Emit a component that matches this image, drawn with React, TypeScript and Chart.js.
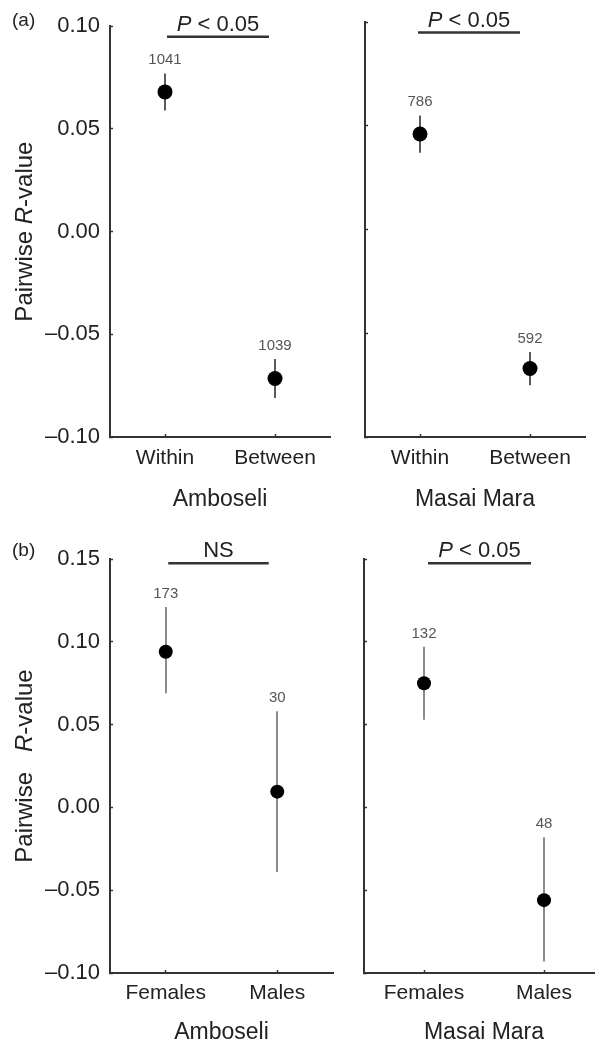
import React, { useEffect, useRef } from "react";
import { Chart, registerables } from "chart.js";

Chart.register(...registerables);

const FONT = '"Liberation Sans", Arial, Helvetica, sans-serif';

// ---------- data ----------
const groupsA = ["Within", "Between"];
const groupsB = ["Females", "Males"];
const siteNames = ["Amboseli", "Masai Mara"];

const ambWBMean = [0.068, -0.0715];
const ambWBLow = [0.059, -0.081];
const ambWBHigh = [0.077, -0.062];
const ambWBN = ["1041", "1039"];

const maraWBMean = [0.046, -0.067];
const maraWBLow = [0.037, -0.075];
const maraWBHigh = [0.055, -0.059];
const maraWBN = ["786", "592"];

const ambSexMean = [0.094, 0.0095];
const ambSexLow = [0.069, -0.039];
const ambSexHigh = [0.121, 0.058];
const ambSexN = ["173", "30"];

const maraSexMean = [0.075, -0.056];
const maraSexLow = [0.053, -0.093];
const maraSexHigh = [0.097, -0.018];
const maraSexN = ["132", "48"];

const yTicksA = [-0.1, -0.05, 0, 0.05, 0.1];
const yTicksB = [-0.1, -0.05, 0, 0.05, 0.1, 0.15];

type Part = { t: string; i?: boolean };
const sigP: Part[] = [{ t: "P", i: true }, { t: " < 0.05" }];
const sigNS: Part[] = [{ t: "NS" }];
const yTitleA: Part[] = [{ t: "Pairwise " }, { t: "R", i: true }, { t: "-value" }];
const yTitleB: Part[] = [{ t: "Pairwise   " }, { t: "R", i: true }, { t: "-value" }];

function fmt(v: number) {
  const s = Math.abs(v).toFixed(2);
  return v < -1e-9 ? "\u2013" + s : s;
}

function drawParts(ctx: CanvasRenderingContext2D, parts: Part[], size: number, x: number, y: number) {
  const fonts = parts.map((p) => `${p.i ? "italic " : ""}${size}px ${FONT}`);
  let total = 0;
  const widths = parts.map((p, k) => {
    ctx.font = fonts[k];
    const w = ctx.measureText(p.t).width;
    total += w;
    return w;
  });
  let cx = x - total / 2;
  ctx.textAlign = "left";
  parts.forEach((p, k) => {
    ctx.font = fonts[k];
    ctx.fillText(p.t, cx, y);
    cx += widths[k];
  });
}

const annotPlugin = {
  id: "annot",
  beforeDatasetsDraw(chart: any, _a: any, o: any) {
    const xs = chart.scales.x;
    const ys = chart.scales.y;
    const ctx: CanvasRenderingContext2D = chart.ctx;
    ctx.save();
    ctx.strokeStyle = o.barColor;
    ctx.lineWidth = o.barWidth;
    o.low.forEach((lo: number, i: number) => {
      const px = Math.round(xs.getPixelForValue(i));
      ctx.beginPath();
      ctx.moveTo(px, ys.getPixelForValue(lo));
      ctx.lineTo(px, ys.getPixelForValue(o.high[i]));
      ctx.stroke();
    });
    ctx.restore();
  },
  afterDatasetsDraw(chart: any, _a: any, o: any) {
    const xs = chart.scales.x;
    const ys = chart.scales.y;
    const ctx: CanvasRenderingContext2D = chart.ctx;
    const area = chart.chartArea;
    ctx.save();
    // sample sizes
    ctx.fillStyle = "#555";
    ctx.font = `15px ${FONT}`;
    ctx.textAlign = "center";
    ctx.textBaseline = "alphabetic";
    o.counts.forEach((c: string, i: number) => {
      const px = xs.getPixelForValue(i);
      ctx.fillText(c, px, ys.getPixelForValue(o.high[i]) - 9);
    });
    // significance bar
    const p0 = xs.getPixelForValue(0);
    const p1 = xs.getPixelForValue(1);
    const ly = ys.getPixelForValue(o.sigY);
    const x1 = p0 + o.sigInset[0];
    const x2 = p1 - o.sigInset[1];
    ctx.strokeStyle = "#333";
    ctx.lineWidth = 2.5;
    ctx.beginPath();
    ctx.moveTo(x1, ly);
    ctx.lineTo(x2, ly);
    ctx.stroke();
    ctx.fillStyle = "#222";
    drawParts(ctx, o.sig, 22, (x1 + x2) / 2, ly - 6);
    // panel letter
    if (o.letter) {
      ctx.font = `19px ${FONT}`;
      ctx.textAlign = "left";
      ctx.fillStyle = "#222";
      ctx.fillText(o.letter, 12, 26);
    }
    // y-axis title
    if (o.yTitle) {
      ctx.save();
      ctx.translate(32, (area.top + area.bottom) / 2);
      ctx.rotate(-Math.PI / 2);
      ctx.fillStyle = "#222";
      drawParts(ctx, o.yTitle, 24, 0, 0);
      ctx.restore();
    }
    ctx.restore();
  },
};

type PanelProps = {
  left: number;
  top: number;
  w: number;
  h: number;
  labels: string[];
  site: string;
  mean: number[];
  low: number[];
  high: number[];
  counts: string[];
  yTicks: number[];
  yMax: number;
  showY: boolean;
  yWidth: number;
  xHeight: number;
  pad: { top: number; right: number };
  tickPad: number;
  titlePad: number;
  sig: Part[];
  sigY: number;
  sigInset: number[];
  letter: string | null;
  yTitle: Part[] | null;
  barColor: string;
  barWidth: number;
  radius: number;
};

function Panel(p: PanelProps) {
  const ref = useRef<HTMLCanvasElement>(null);
  useEffect(() => {
    if (!ref.current) return;
    const chart = new Chart(ref.current, {
      type: "line",
      data: {
        labels: p.labels,
        datasets: [
          {
            data: p.mean,
            showLine: false,
            pointRadius: p.radius,
            pointHoverRadius: p.radius,
            pointBackgroundColor: "#000",
            pointBorderWidth: 0,
            borderColor: "#000",
            backgroundColor: "#000",
          },
        ],
      },
      options: {
        animation: false,
        responsive: false,
        devicePixelRatio: 1,
        events: [],
        layout: { padding: { top: p.pad.top, right: p.pad.right, left: 0, bottom: 0 } },
        plugins: {
          legend: { display: false },
          tooltip: { enabled: false },
          annot: {
            low: p.low,
            high: p.high,
            counts: p.counts,
            sig: p.sig,
            sigY: p.sigY,
            sigInset: p.sigInset,
            letter: p.letter,
            yTitle: p.yTitle,
            barColor: p.barColor,
            barWidth: p.barWidth,
          },
        } as any,
        scales: {
          x: {
            type: "category",
            offset: true,
            border: { display: true, color: "#333", width: 2 },
            grid: {
              drawOnChartArea: false,
              drawTicks: true,
              tickLength: -3,
              tickColor: "#333",
              tickWidth: 1.5,
            },
            ticks: {
              color: "#222",
              font: { family: FONT, size: 21 },
              padding: p.tickPad,
              maxRotation: 0,
              autoSkip: false,
            },
            title: {
              display: true,
              text: p.site,
              color: "#222",
              font: { family: FONT, size: 23, lineHeight: 1 },
              padding: { top: 0, bottom: p.titlePad },
            },
            afterFit: (s: any) => {
              s.height = p.xHeight;
            },
          },
          y: {
            type: "linear",
            min: -0.1,
            max: p.yMax,
            border: { display: true, color: "#333", width: 2 },
            grid: {
              drawOnChartArea: false,
              drawTicks: true,
              tickLength: -3,
              tickColor: "#333",
              tickWidth: 1.5,
            },
            afterBuildTicks: (s: any) => {
              s.ticks = p.yTicks.map((v) => ({ value: v }));
            },
            ticks: {
              display: p.showY,
              color: "#222",
              font: { family: FONT, size: 22 },
              padding: 13,
              callback: (v: any) => fmt(Number(v)),
            },
            afterFit: (s: any) => {
              s.width = p.yWidth;
            },
          },
        },
      },
      plugins: [annotPlugin as any],
    });
    return () => chart.destroy();
  }, []);
  return (
    <canvas
      ref={ref}
      width={p.w}
      height={p.h}
      style={{ position: "absolute", left: p.left, top: p.top, width: p.w, height: p.h }}
    />
  );
}

export default function App() {
  return (
    <div
      style={{
        position: "absolute",
        left: 0,
        top: 0,
        width: 595,
        height: 1045,
        overflow: "hidden",
        background: "#fff",
      }}
    >
      <Panel
        left={0}
        top={0}
        w={340}
        h={530}
        labels={groupsA}
        site={siteNames[0]}
        mean={ambWBMean}
        low={ambWBLow}
        high={ambWBHigh}
        counts={ambWBN}
        yTicks={yTicksA}
        yMax={0.1}
        showY={true}
        yWidth={110}
        xHeight={93}
        pad={{ top: 22, right: 10 }}
        tickPad={12}
        titlePad={18.5}
        sig={sigP}
        sigY={0.0949}
        sigInset={[2, 6]}
        letter="(a)"
        yTitle={yTitleA}
        barColor="#5a5a5a"
        barWidth={2}
        radius={7.5}
      />
      <Panel
        left={340}
        top={0}
        w={255}
        h={530}
        labels={groupsA}
        site={siteNames[1]}
        mean={maraWBMean}
        low={maraWBLow}
        high={maraWBHigh}
        counts={maraWBN}
        yTicks={yTicksA}
        yMax={0.1}
        showY={false}
        yWidth={25}
        xHeight={93}
        pad={{ top: 22, right: 10 }}
        tickPad={12}
        titlePad={18.5}
        sig={sigP}
        sigY={0.0949}
        sigInset={[-2, 10]}
        letter={null}
        yTitle={null}
        barColor="#5a5a5a"
        barWidth={2}
        radius={7.5}
      />
      <Panel
        left={0}
        top={530}
        w={340}
        h={515}
        labels={groupsB}
        site={siteNames[0]}
        mean={ambSexMean}
        low={ambSexLow}
        high={ambSexHigh}
        counts={ambSexN}
        yTicks={yTicksB}
        yMax={0.15}
        showY={true}
        yWidth={110}
        xHeight={72}
        pad={{ top: 29, right: 4 }}
        tickPad={11}
        titlePad={0.5}
        sig={sigNS}
        sigY={0.1475}
        sigInset={[2.5, 8.5]}
        letter="(b)"
        yTitle={yTitleB}
        barColor="#8c8c8c"
        barWidth={2}
        radius={7}
      />
      <Panel
        left={340}
        top={530}
        w={280}
        h={515}
        labels={groupsB}
        site={siteNames[1]}
        mean={maraSexMean}
        low={maraSexLow}
        high={maraSexHigh}
        counts={maraSexN}
        yTicks={yTicksB}
        yMax={0.15}
        showY={false}
        yWidth={24}
        xHeight={72}
        pad={{ top: 29, right: 16 }}
        tickPad={11}
        titlePad={0.5}
        sig={sigP}
        sigY={0.1475}
        sigInset={[4, 13]}
        letter={null}
        yTitle={null}
        barColor="#8c8c8c"
        barWidth={2}
        radius={7}
      />
    </div>
  );
}
